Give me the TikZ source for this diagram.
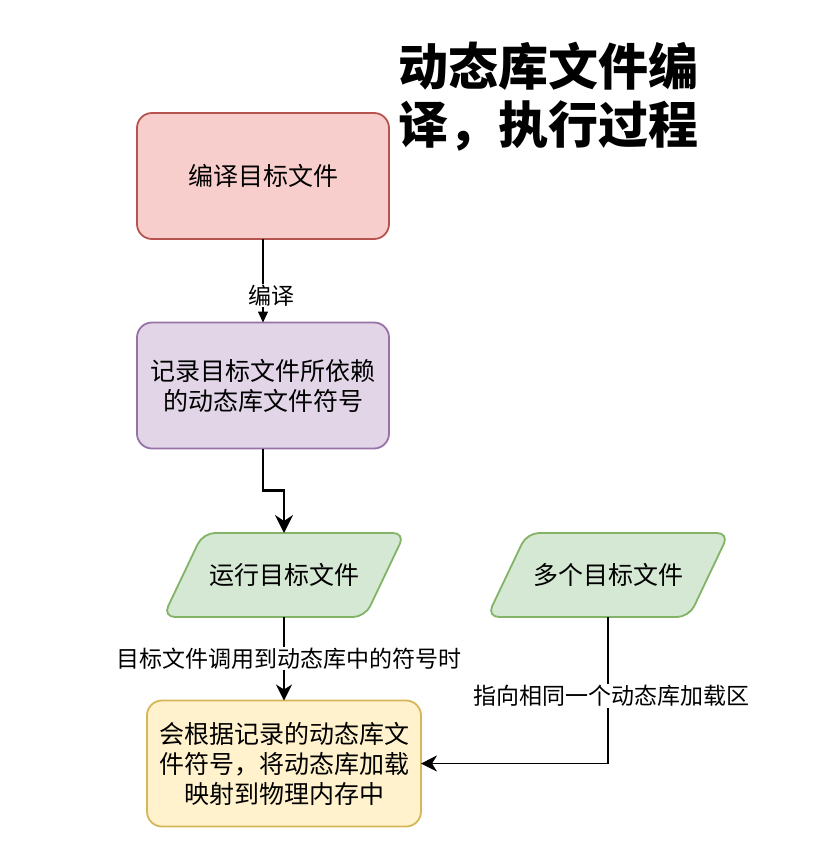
\documentclass[tikz,border=0pt]{standalone}
\usepackage{fontspec}
\setmainfont{Noto Sans CJK SC}
\usetikzlibrary{arrows.meta}
\pgfdeclarelayer{background}
\pgfsetlayers{background,main}
\definecolor{redfill}{HTML}{F8CECC}
\definecolor{redline}{HTML}{B85450}
\definecolor{purfill}{HTML}{E1D5E7}
\definecolor{purline}{HTML}{9673A6}
\definecolor{grnfill}{HTML}{D5E8D4}
\definecolor{grnline}{HTML}{82B366}
\definecolor{yelfill}{HTML}{FFF2CC}
\definecolor{yelline}{HTML}{D6B656}
\begin{document}
\begin{tikzpicture}[x=1pt,y=-1pt,
  box/.style={rectangle, rounded corners=15pt, line width=1.8pt, minimum width=252pt,
    minimum height=126pt, align=center, font=\fontsize{25}{30}\selectfont,
    inner sep=0pt, outer sep=0pt},
  paranode/.style={rectangle, minimum width=242pt, minimum height=84pt, inner sep=0pt,
    outer sep=0pt, font=\fontsize{25}{30}\selectfont},
  parashape/.style={line width=1.8pt, rounded corners=12pt, fill=grnfill, draw=grnline},
  lbl/.style={fill=white, inner sep=1pt, font=\fontsize{23}{28}\selectfont},
  conn/.style={line width=1.5pt, black},
  bigtip/.style={-{Stealth[length=18pt,width=18pt,inset=6pt]}},
  midtip/.style={-{Stealth[length=16pt,width=16pt,inset=5pt]}},
  blocktip/.style={-{Triangle[length=11pt,width=10pt]}}
]
\useasboundingbox (0,0) rectangle (838,846);

\node[anchor=west, align=left, font=\fontsize{50}{58}\selectfont\bfseries, inner sep=0pt] (title) at (398,97) {动态库文件编\\译，执行过程};

\node[box, fill=redfill, draw=redline] (box1) at (263,176) {编译目标文件};
\node[box, fill=purfill, draw=purline] (box2) at (263,385.5) {记录目标文件所依赖\\的动态库文件符号};
\node[paranode] (p1) at (284,575) {运行目标文件};
\node[paranode] (p2) at (608,575) {多个目标文件};
\node[box, minimum width=274pt, fill=yelfill, draw=yelline] (box3) at (284,763.5) {会根据记录的动态库文\\件符号，将动态库加载\\映射到物理内存中};

\begin{pgfonlayer}{background}
\fill[white] (0,0) rectangle (838,846);
\draw[parashape] ([xshift=40pt]p1.north west) -- (p1.north east) -- ([xshift=-40pt]p1.south east) -- (p1.south west) -- cycle;
\draw[parashape] ([xshift=40pt]p2.north west) -- (p2.north east) -- ([xshift=-40pt]p2.south east) -- (p2.south west) -- cycle;
\end{pgfonlayer}

\draw[conn, blocktip] (box1.south) -- node[lbl, pos=0.68, xshift=8pt] {编译} (box2.north);
\draw[conn, line width=2.5pt, bigtip] (box2.south) -- ++(0,42) -| (p1.north);
\draw[conn, midtip] (p1.south) -- node[lbl, xshift=5pt] {目标文件调用到动态库中的符号时} (box3.north);
\draw[conn, midtip] (p2.south) |- node[lbl, pos=0.27, xshift=3pt] {指向相同一个动态库加载区} (box3.east);
\end{tikzpicture}
\end{document}
